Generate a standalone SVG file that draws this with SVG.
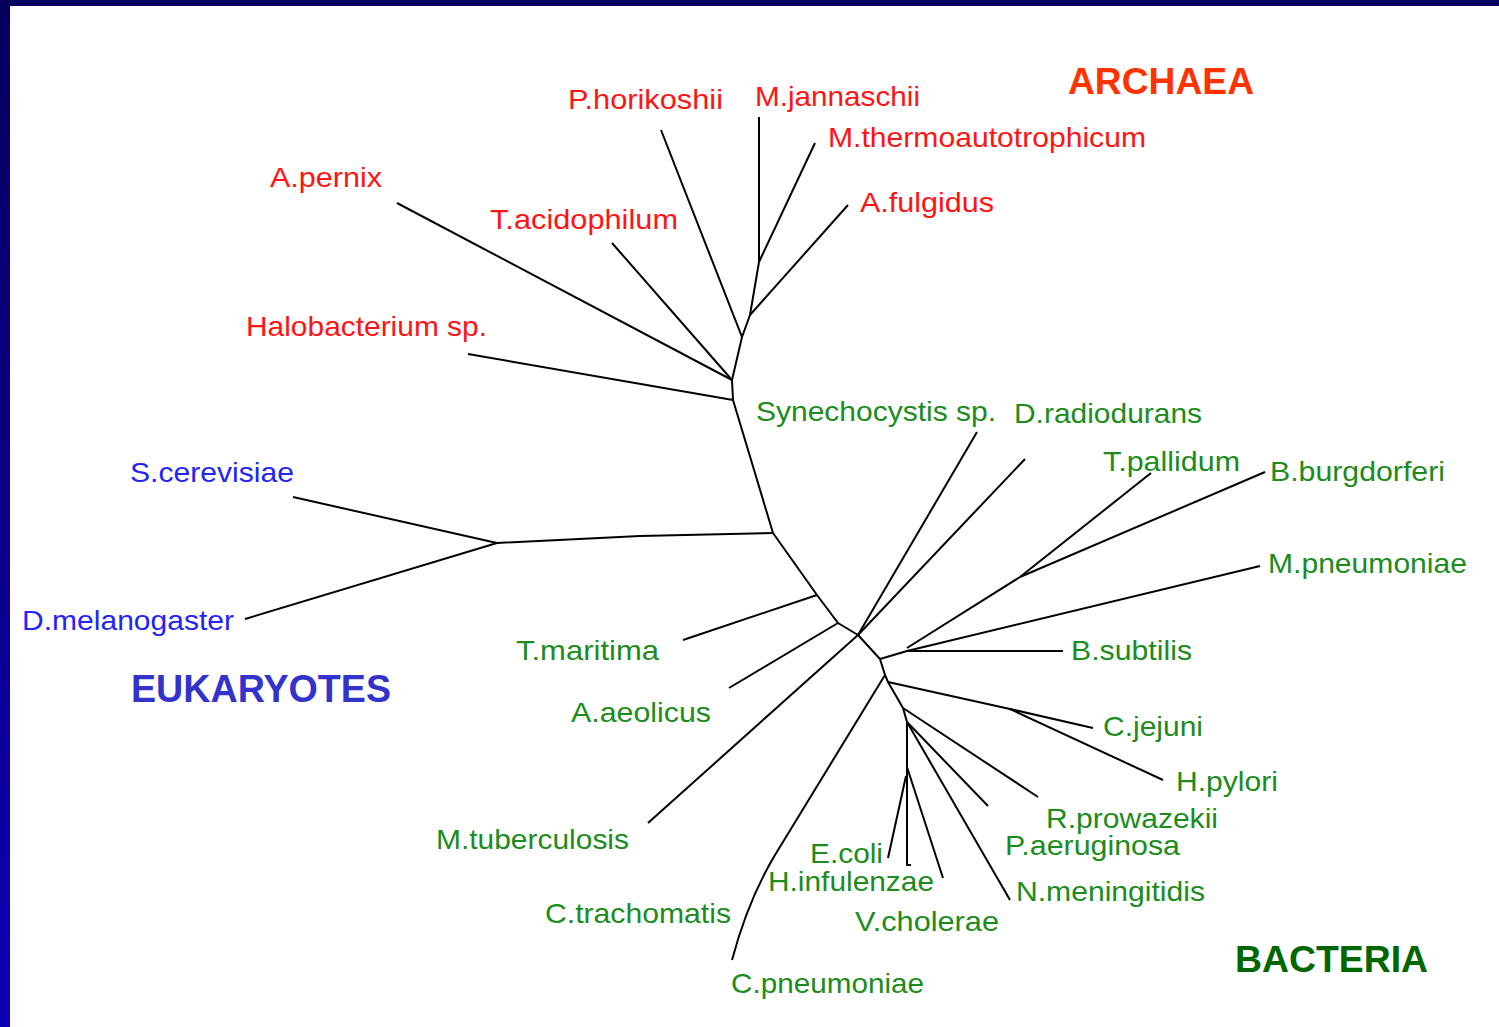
<svg xmlns="http://www.w3.org/2000/svg" width="1499" height="1027" viewBox="0 0 1499 1027">
<defs>
<linearGradient id="band" x1="0" y1="0" x2="0" y2="1">
<stop offset="0" stop-color="#06005c"/>
<stop offset="1" stop-color="#0d00b4"/>
</linearGradient>
</defs>
<style>
.e{fill:none;stroke:#000;stroke-width:2;stroke-linejoin:round;stroke-linecap:butt}
.l{font-family:"Liberation Sans",Arial,sans-serif;font-size:28px}
.ar{fill:#ff1414}
.eu{fill:#2424f4}
.ba{fill:#1c8c1c}
.t{font-family:"Liberation Sans",Arial,sans-serif;font-weight:bold}
</style>
<rect x="0" y="0" width="1499" height="1027" fill="#fff"/>
<rect x="0" y="0" width="1499" height="6" fill="#07005e"/>
<rect x="0" y="0" width="10" height="1027" fill="url(#band)"/>

<g id="connectors">
<path class="e" d="M773,533 L733,400 L732,380 L742,337 L750,315 L759,262"/>
<path class="e" d="M468,354 L733,400"/>
<path class="e" d="M397,203 L732,380"/>
<path class="e" d="M612,243 L732,380"/>
<path class="e" d="M661,130 L742,337"/>
<path class="e" d="M848,205 L750,315"/>
<path class="e" d="M759,117 L759,262"/>
<path class="e" d="M815,143 L759,262"/>
<path class="e" d="M773,533 L640,536 L497,543"/>
<path class="e" d="M293,497 L497,543"/>
<path class="e" d="M245,619 L497,543"/>
<path class="e" d="M773,533 L817,595 L838,623 L858,635 L880,659 L885,675 L888,682 L903,708 L907,722"/>
<path class="e" d="M683,640 L817,595"/>
<path class="e" d="M729,688 L838,623"/>
<path class="e" d="M648,823 L858,635"/>
<path class="e" d="M977,432 L858,635"/>
<path class="e" d="M1025,459 L858,635"/>
<path class="e" d="M880,659 L907,651 L1063,651"/>
<path class="e" d="M907,651 L1260,566"/>
<path class="e" d="M907,648 L1020,577"/>
<path class="e" d="M1020,577 L1151,473"/>
<path class="e" d="M1020,577 L1265,472"/>
<path class="e" d="M885,675 L775,855 Q748,900 732,960"/>
<path class="e" d="M888,682 L1010,709 L1093,728"/>
<path class="e" d="M1010,709 L1163,780"/>
<path class="e" d="M903,708 L1038,797"/>
<path class="e" d="M907,722 L988,806"/>
<path class="e" d="M907,722 L1010,900"/>
<path class="e" d="M907,722 L907,865 L911,865"/>
<path class="e" d="M907,767 L943,878"/>
<path class="e" d="M906,776 L888,858"/>
</g>

<g id="archaea-title"><text class="t" x="1068" y="94" font-size="37" fill="#ff3300" textLength="186" lengthAdjust="spacingAndGlyphs">ARCHAEA</text></g>
<g id="eukaryotes-title"><text class="t" x="131" y="702" font-size="38" fill="#3333cc" textLength="260" lengthAdjust="spacingAndGlyphs">EUKARYOTES</text></g>
<g id="bacteria-title"><text class="t" x="1235" y="972" font-size="37" fill="#006600" textLength="193" lengthAdjust="spacingAndGlyphs">BACTERIA</text></g>

<g id="p-horikoshii"><text class="l ar" x="568" y="109" textLength="155" lengthAdjust="spacingAndGlyphs">P.horikoshii</text></g>
<g id="m-jannaschii"><text class="l ar" x="755" y="106" textLength="165" lengthAdjust="spacingAndGlyphs">M.jannaschii</text></g>
<g id="m-thermoautotrophicum"><text class="l ar" x="828" y="147" textLength="318" lengthAdjust="spacingAndGlyphs">M.thermoautotrophicum</text></g>
<g id="a-fulgidus"><text class="l ar" x="860" y="212" textLength="134" lengthAdjust="spacingAndGlyphs">A.fulgidus</text></g>
<g id="a-pernix"><text class="l ar" x="270" y="187" textLength="112" lengthAdjust="spacingAndGlyphs">A.pernix</text></g>
<g id="t-acidophilum"><text class="l ar" x="490" y="229" textLength="188" lengthAdjust="spacingAndGlyphs">T.acidophilum</text></g>
<g id="halobacterium"><text class="l ar" x="246" y="336" textLength="241" lengthAdjust="spacingAndGlyphs">Halobacterium sp.</text></g>

<g id="s-cerevisiae"><text class="l eu" x="130" y="482" textLength="164" lengthAdjust="spacingAndGlyphs">S.cerevisiae</text></g>
<g id="d-melanogaster"><text class="l eu" x="22" y="630" textLength="212" lengthAdjust="spacingAndGlyphs">D.melanogaster</text></g>

<g id="synechocystis"><text class="l ba" x="756" y="421" textLength="240" lengthAdjust="spacingAndGlyphs">Synechocystis sp.</text></g>
<g id="d-radiodurans"><text class="l ba" x="1014" y="423" textLength="188" lengthAdjust="spacingAndGlyphs">D.radiodurans</text></g>
<g id="t-pallidum"><text class="l ba" x="1103" y="471" textLength="137" lengthAdjust="spacingAndGlyphs">T.pallidum</text></g>
<g id="b-burgdorferi"><text class="l ba" x="1270" y="481" textLength="175" lengthAdjust="spacingAndGlyphs">B.burgdorferi</text></g>
<g id="m-pneumoniae"><text class="l ba" x="1268" y="573" textLength="199" lengthAdjust="spacingAndGlyphs">M.pneumoniae</text></g>
<g id="b-subtilis"><text class="l ba" x="1071" y="660" textLength="121" lengthAdjust="spacingAndGlyphs">B.subtilis</text></g>
<g id="t-maritima"><text class="l ba" x="516" y="660" textLength="143" lengthAdjust="spacingAndGlyphs">T.maritima</text></g>
<g id="a-aeolicus"><text class="l ba" x="571" y="722" textLength="140" lengthAdjust="spacingAndGlyphs">A.aeolicus</text></g>
<g id="m-tuberculosis"><text class="l ba" x="436" y="849" textLength="193" lengthAdjust="spacingAndGlyphs">M.tuberculosis</text></g>
<g id="c-trachomatis"><text class="l ba" x="545" y="923" textLength="186" lengthAdjust="spacingAndGlyphs">C.trachomatis</text></g>
<g id="c-pneumoniae"><text class="l ba" x="731" y="993" textLength="193" lengthAdjust="spacingAndGlyphs">C.pneumoniae</text></g>
<g id="e-coli"><text class="l ba" x="810" y="863" textLength="73" lengthAdjust="spacingAndGlyphs">E.coli</text></g>
<g id="h-infulenzae"><text class="l ba" x="768" y="891" textLength="166" lengthAdjust="spacingAndGlyphs">H.infulenzae</text></g>
<g id="v-cholerae"><text class="l ba" x="855" y="931" textLength="144" lengthAdjust="spacingAndGlyphs">V.cholerae</text></g>
<g id="c-jejuni"><text class="l ba" x="1103" y="736" textLength="100" lengthAdjust="spacingAndGlyphs">C.jejuni</text></g>
<g id="h-pylori"><text class="l ba" x="1176" y="791" textLength="102" lengthAdjust="spacingAndGlyphs">H.pylori</text></g>
<g id="r-prowazekii"><text class="l ba" x="1046" y="828" textLength="172" lengthAdjust="spacingAndGlyphs">R.prowazekii</text></g>
<g id="p-aeruginosa"><text class="l ba" x="1005" y="855" textLength="175" lengthAdjust="spacingAndGlyphs">P.aeruginosa</text></g>
<g id="n-meningitidis"><text class="l ba" x="1016" y="901" textLength="189" lengthAdjust="spacingAndGlyphs">N.meningitidis</text></g>
</svg>
